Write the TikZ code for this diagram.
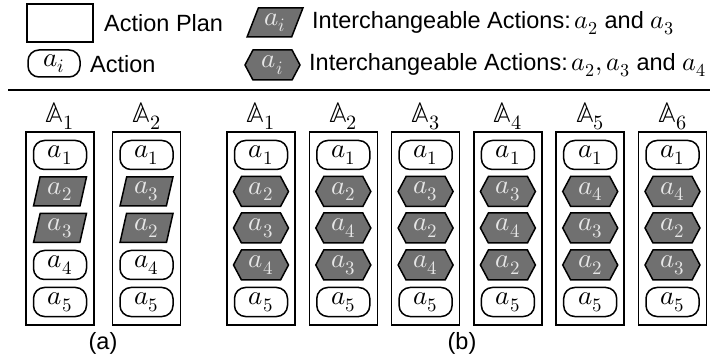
\documentclass[tikz,border=0pt]{standalone}
\usepackage{fontspec}
\usepackage{unicode-math}
\setmainfont{Liberation Sans}
\setmathfont{Latin Modern Math}
\usetikzlibrary{shapes.geometric,shapes.symbols}
\definecolor{shade}{RGB}{112,112,112}
\definecolor{light}{RGB}{230,230,230}
\tikzset{
  mfont/.style={font=\fontsize{27}{29}\selectfont},
  plan/.style={draw, line width=1.6pt, minimum width=68pt, minimum height=193pt, inner sep=0pt},
  act/.style={draw, line width=1.5pt, rounded corners=11pt, minimum width=53pt, minimum height=29pt, inner sep=0pt, mfont},
  para/.style={draw, line width=1.5pt, fill=shade, text=light, trapezium, trapezium stretches=true,
     trapezium left angle=78, trapezium right angle=102, minimum width=53pt, minimum height=29pt, inner sep=0pt, mfont},
  hexa/.style={draw, line width=1.5pt, fill=shade, text=light, signal, signal to=east and west,
     signal pointer angle=124, minimum width=55pt, minimum height=30pt, inner sep=0pt, mfont},
  lbl/.style={font=\fontsize{23.5}{25}\selectfont, inner sep=0pt},
  hdr/.style={font=\fontsize{29}{31}\selectfont, inner sep=0pt},
}
\begin{document}
\begin{tikzpicture}[x=1pt,y=-1pt]
\useasboundingbox (0,0) rectangle (712,363);
% legend
\node[draw, line width=1.6pt, minimum width=66pt, minimum height=38pt, inner sep=0pt] (lplan) at (60,23) {};
\node[lbl, anchor=west] (tplan) at (104,23) {Action Plan};
\node[act, minimum height=27pt, minimum width=52pt] (lact) at (54,63.5) {$a_i$};
\node[lbl, anchor=west] (tact) at (90,64) {Action};
\node[para, trapezium left angle=69, trapezium right angle=111, minimum width=56pt] (lpara) at (275,22.5) {$a_i$};
\node[lbl, anchor=west] (tpara) at (312,23) {Interchangeable Actions:\,{\fontsize{26}{28}\selectfont$a_2$} and {\fontsize{26}{28}\selectfont$a_3$}};
\node[hexa] (lhex) at (272.5,65) {$a_i$};
\node[lbl, anchor=west] (thex) at (309,65) {Interchangeable Actions:\,{\fontsize{26}{28}\selectfont$a_2, a_3$} and {\fontsize{26}{28}\selectfont$a_4$}};
\coordinate (divl) at (8,90);
\coordinate (divr) at (710,90);
\draw[line width=2pt] (divl) -- (divr);
% panel (a)
\foreach \x/\i/\p/\q in {60/1/2/3, 146.5/2/3/2}{
  \node[plan] (pa\i) at (\x,228.5) {};
  \node[hdr] (ha\i) at (\x,116.5) {$\mathbb{A}_{\i}$};
  \node[act] (pa\i-1) at (\x,155) {$a_1$};
  \node[para] (pa\i-2) at (\x,191.5) {$a_{\p}$};
  \node[para] (pa\i-3) at (\x,228) {$a_{\q}$};
  \node[act] (pa\i-4) at (\x,265) {$a_4$};
  \node[act] (pa\i-5) at (\x,302) {$a_5$};
}
\node[lbl] (capa) at (103,343) {(a)};
% panel (b)
\foreach \x/\i/\p/\q/\r in {261/1/2/3/4, 343.3/2/2/4/3, 425.6/3/3/2/4, 507.9/4/3/4/2, 590.2/5/4/3/2, 672.5/6/4/2/3}{
  \node[plan] (pb\i) at (\x,228.5) {};
  \node[hdr] (hb\i) at (\x,116.5) {$\mathbb{A}_{\i}$};
  \node[act] (pb\i-1) at (\x,155) {$a_1$};
  \node[hexa] (pb\i-2) at (\x,191.5) {$a_{\p}$};
  \node[hexa] (pb\i-3) at (\x,228) {$a_{\q}$};
  \node[hexa] (pb\i-4) at (\x,265) {$a_{\r}$};
  \node[act] (pb\i-5) at (\x,302) {$a_5$};
}
\node[lbl] (capb) at (462,343) {(b)};
\end{tikzpicture}
\end{document}
